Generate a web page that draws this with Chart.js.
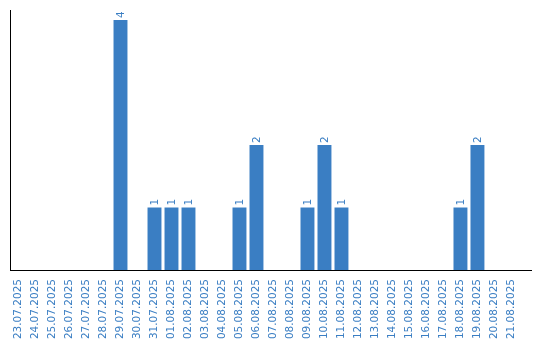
<!DOCTYPE html>
<html>
<head>
<meta charset="utf-8">
<script src="https://cdn.jsdelivr.net/npm/chart.js@4/dist/chart.umd.min.js"></script>
<style>
  body { margin: 0; background: #fff; }
  canvas { display: block; }
</style>
</head>
<body>
<canvas id="chart" width="540" height="340"></canvas>
<script>
// Datos del gráfico
const dates = ['23.07.2025', '24.07.2025', '25.07.2025', '26.07.2025', '27.07.2025', '28.07.2025',
    '29.07.2025', '30.07.2025', '31.07.2025', '01.08.2025', '02.08.2025', '03.08.2025',
    '04.08.2025', '05.08.2025', '06.08.2025', '07.08.2025', '08.08.2025', '09.08.2025',
    '10.08.2025', '11.08.2025', '12.08.2025', '13.08.2025', '14.08.2025', '15.08.2025',
    '16.08.2025', '17.08.2025', '18.08.2025', '19.08.2025', '20.08.2025', '21.08.2025'];
const counts = [0, 0, 0, 0, 0, 0, 4, 0, 1, 1, 1, 0, 0, 1, 2, 0, 0, 1, 2, 1, 0, 0, 0, 0, 0, 0, 1, 2, 0, 0];

const blue = '#3a7ec3';

// Etiquetas de valor giradas encima de cada barra
const valueLabels = {
    id: 'valueLabels',
    afterDatasetsDraw(chart) {
        const ctx = chart.ctx;
        const meta = chart.getDatasetMeta(0);
        ctx.save();
        ctx.fillStyle = blue;
        ctx.font = '10.5px "DejaVu Sans"';
        ctx.textAlign = 'left';
        ctx.textBaseline = 'middle';
        meta.data.forEach((bar, i) => {
            if (!counts[i]) return;
            ctx.save();
            ctx.translate(bar.x + 0.5, bar.y - 2);
            ctx.rotate(-Math.PI / 2);
            ctx.fillText(String(counts[i]), 0, 0);
            ctx.restore();
        });
        ctx.restore();
    }
};

const ctx = document.getElementById('chart').getContext('2d');
new Chart(ctx, {
    type: 'bar',
    data: {
        datasets: [{
            data: counts.map((v, i) => ({ x: i, y: v })),
            backgroundColor: blue,
            borderWidth: 0,
            barPercentage: 0.82,
            categoryPercentage: 1
        }]
    },
    options: {
        responsive: false,
        animation: false,
        layout: { padding: { left: 10, top: 10, right: 9, bottom: 0 } },
        plugins: {
            legend: { display: false },
            tooltip: { enabled: false }
        },
        scales: {
            x: {
                type: 'linear',
                offset: false,
                min: -0.5,
                max: 30.15,
                grid: { display: false },
                border: { display: true, color: '#000', width: 1 },
                afterBuildTicks: scale => {
                    scale.ticks = dates.map((_, i) => ({ value: i }));
                },
                afterFit: scale => {
                    scale.height = 70;
                    scale.paddingLeft = 0;
                    scale.paddingRight = 0;
                },
                ticks: {
                    autoSkip: false,
                    minRotation: 90,
                    maxRotation: 90,
                    color: blue,
                    padding: 1,
                    font: { family: 'DejaVu Sans', size: 10.5 },
                    callback: v => dates[v]
                }
            },
            y: {
                min: 0,
                max: 4.16,
                grid: { display: false },
                border: { display: true, color: '#000', width: 1 },
                ticks: { display: false },
                afterFit: scale => {
                    scale.width = 0;
                    scale.paddingTop = 0;
                    scale.paddingBottom = 0;
                }
            }
        }
    },
    plugins: [valueLabels]
});
</script>
</body>
</html>
